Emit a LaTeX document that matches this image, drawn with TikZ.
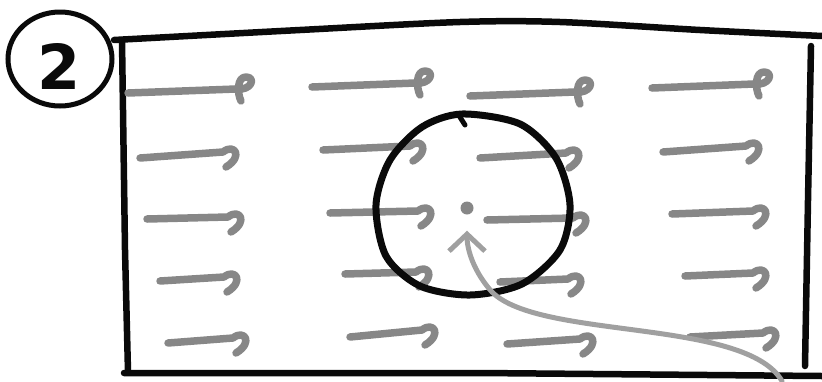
\documentclass[tikz,border=0pt]{standalone}
\usepackage{fontspec}
\setsansfont{DejaVu Sans}
\usetikzlibrary{arrows.meta,calc}
\definecolor{skblack}{RGB}{10,10,10}
\definecolor{skgray}{RGB}{135,135,135}
\definecolor{sklight}{RGB}{160,160,160}

\begin{document}
\begin{tikzpicture}[x=1pt,y=-1pt,
    frame/.style={draw=skblack,line width=6.5pt,line cap=round,line join=round},
    flow/.style={draw=skgray,line width=7.5pt,line cap=round,line join=round},
    pointer/.style={draw=sklight,line width=5pt,line cap=round,line join=round}]
  \useasboundingbox (0,0) rectangle (822,381);
  % step number
  \draw[skblack,line width=5pt] (60,59) ellipse [x radius=52,y radius=47];
  \node[font=\sffamily\bfseries\fontsize{62}{62}\selectfont,text=skblack] (num) at (59,66) {2};
  % channel walls
  \draw[frame] plot[smooth] coordinates {(114,40) (300,30) (460,22) (560,22) (700,30) (822,36)};
  \draw[frame] (122,40) -- (125,250) -- (128,372);
  \draw[frame] (124,373) -- (480,373) -- (822,376);
  \draw[frame] (811,46) -- (808,200) -- (805,366);
  % flow field, top row
  \foreach \xa/\ya/\xb/\yb in {128/93/236/89, 312/87/415/83, 470/96/575/92, 652/88/754/84}
    \draw[flow] (\xa,\ya) -- (\xb,\yb) .. controls (\xb+16,\yb+2) and (\xb+20,\yb-12) .. (\xb+10,\yb-12)
      .. controls (\xb+1,\yb-12) and (\xb+1,\yb+4) .. (\xb+5,\yb+12);
  % flow field, other rows
  \foreach \xa/\ya/\xb/\yb in {140/158/223/152, 323/150/410/146, 480/158/566/153, 663/152/746/146,
      147/219/228/217, 330/213/418/211, 487/220/573/218, 672/214/753/211,
      160/281/224/277, 345/274/416/272, 500/282/568/279, 685/276/753/273,
      168/343/233/338, 350/337/422/330, 507/344/580/339, 690/337/763/333}
    \draw[flow] (\xa,\ya) -- (\xb,\yb) .. controls (\xb+11,\yb-9) and (\xb+21,\yb+4) .. (\xb+3,\yb+15);
  % control volume
  \draw[skblack,line width=7pt,line cap=round] plot[smooth cycle] coordinates {(462,114) (520,124) (556,158)
    (570,205) (560,250) (522,284) (470,295) (420,286) (386,256) (376,205) (390,160) (422,127)};
  \draw[skblack,line width=5pt,line cap=round] (458,114) -- (465,125);
  % point of interest
  \node[circle,fill=skgray,inner sep=0pt,minimum size=13pt] (pt) at (467,208) {};
  \coordinate (src) at (782,381);
  \draw[pointer,-{Straight Barb[length=17pt,width=36pt,line width=5pt]}] (src)
    .. controls (745,318) and (540,340) .. (492,292) .. controls (474,272) and (467,250) .. ([yshift=-16pt]pt.south);
\end{tikzpicture}
\end{document}
